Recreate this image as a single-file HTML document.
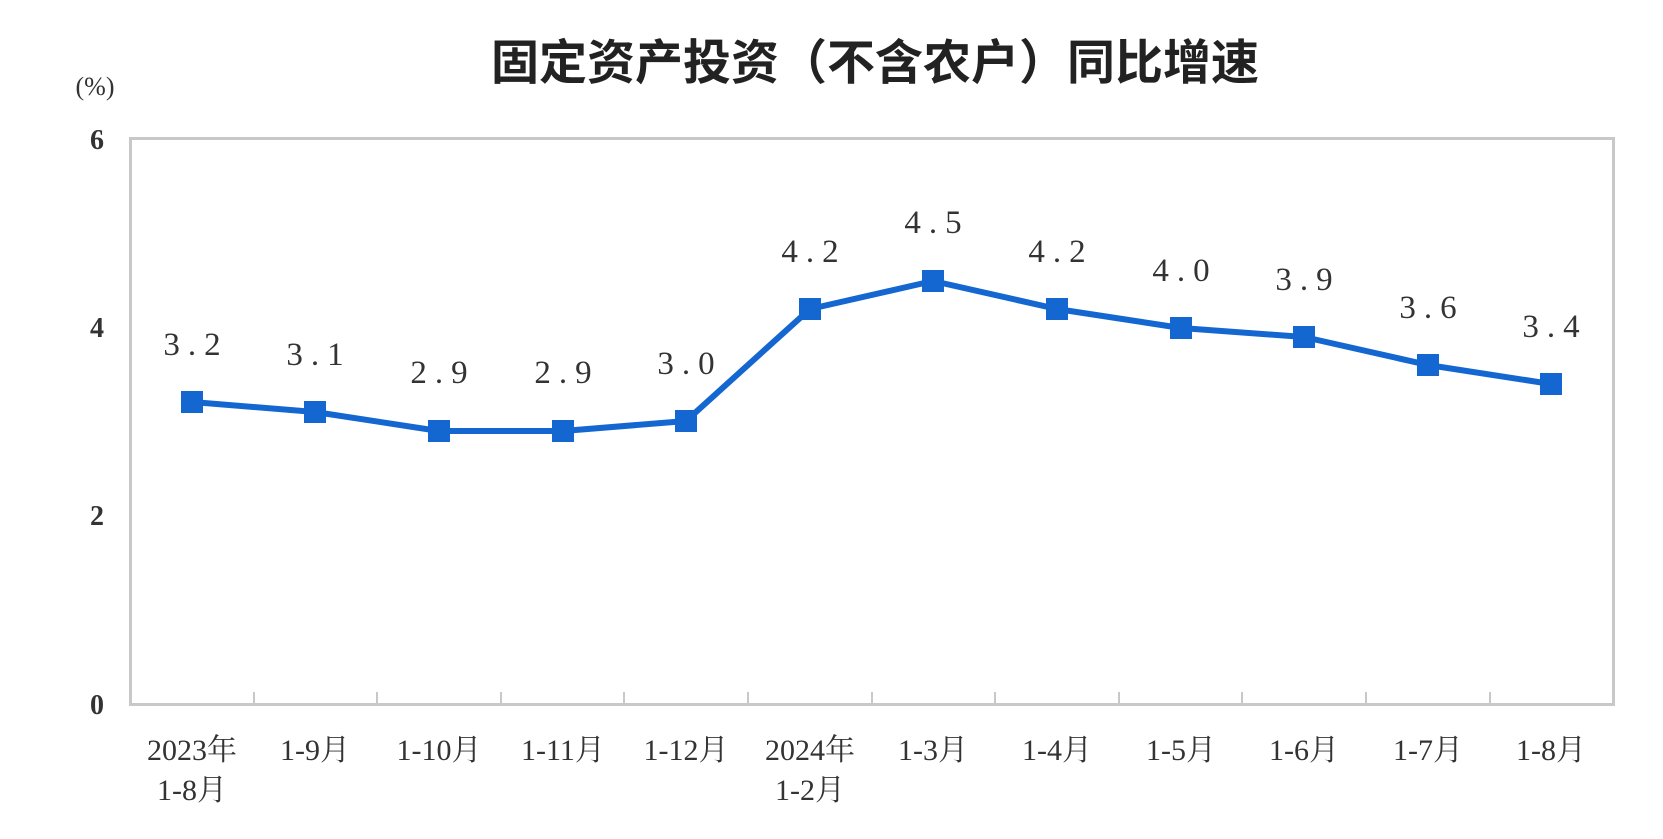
<!DOCTYPE html>
<html><head><meta charset="utf-8"><style>
html,body{margin:0;padding:0;background:#fff;}
</style></head><body>
<svg width="1663" height="834" xmlns="http://www.w3.org/2000/svg" font-family="'Liberation Serif','Noto Serif CJK SC',serif">
<text x="875" y="79" text-anchor="middle" font-size="48" font-weight="bold" font-family="'Liberation Sans','Noto Sans CJK SC',sans-serif" fill="#222">固定资产投资（不含农户）同比增速</text>
<text x="95" y="95" text-anchor="middle" font-size="26" fill="#333">(%)</text>
<g font-size="28" font-weight="bold" fill="#333" text-anchor="middle">
<text x="97" y="149">6</text><text x="97" y="337">4</text><text x="97" y="525">2</text><text x="97" y="714">0</text>
</g>
<rect x="130.5" y="138.5" width="1483" height="566" fill="none" stroke="#c8c8c8" stroke-width="3"/>
<g stroke="#c8c8c8" stroke-width="2">
<line x1="254" y1="704" x2="254" y2="692"/><line x1="377" y1="704" x2="377" y2="692"/><line x1="501" y1="704" x2="501" y2="692"/><line x1="624" y1="704" x2="624" y2="692"/><line x1="748" y1="704" x2="748" y2="692"/><line x1="872" y1="704" x2="872" y2="692"/><line x1="995" y1="704" x2="995" y2="692"/><line x1="1119" y1="704" x2="1119" y2="692"/><line x1="1242" y1="704" x2="1242" y2="692"/><line x1="1366" y1="704" x2="1366" y2="692"/><line x1="1490" y1="704" x2="1490" y2="692"/>
</g>
<polyline fill="none" stroke="#1467d0" stroke-width="6" stroke-linejoin="round" points="192,402 315,412 439,431 563,431 686,421 810,309 933,281 1057,309 1181,328 1304,337 1428,365 1551,384"/>
<g fill="#1467d0">
<rect x="181" y="391" width="22" height="22"/><rect x="304" y="401" width="22" height="22"/><rect x="428" y="420" width="22" height="22"/><rect x="552" y="420" width="22" height="22"/><rect x="675" y="410" width="22" height="22"/><rect x="799" y="298" width="22" height="22"/><rect x="922" y="270" width="22" height="22"/><rect x="1046" y="298" width="22" height="22"/><rect x="1170" y="317" width="22" height="22"/><rect x="1293" y="326" width="22" height="22"/><rect x="1417" y="354" width="22" height="22"/><rect x="1540" y="373" width="22" height="22"/>
</g>
<g font-size="33" fill="#333" text-anchor="middle" letter-spacing="8">
<text x="196" y="355">3.2</text><text x="319" y="365">3.1</text><text x="443" y="383">2.9</text><text x="567" y="383">2.9</text><text x="690" y="374">3.0</text><text x="814" y="262">4.2</text><text x="937" y="233">4.5</text><text x="1061" y="262">4.2</text><text x="1185" y="281">4.0</text><text x="1308" y="290">3.9</text><text x="1432" y="318">3.6</text><text x="1555" y="337">3.4</text>
</g>
<g font-size="30" fill="#333" text-anchor="middle">
<text x="192" y="760">2023年</text><text x="192" y="800">1-8月</text>
<text x="315" y="760">1-9月</text><text x="439" y="760">1-10月</text><text x="563" y="760">1-11月</text><text x="686" y="760">1-12月</text>
<text x="810" y="760">2024年</text><text x="810" y="800">1-2月</text>
<text x="933" y="760">1-3月</text><text x="1057" y="760">1-4月</text><text x="1181" y="760">1-5月</text><text x="1304" y="760">1-6月</text><text x="1428" y="760">1-7月</text><text x="1551" y="760">1-8月</text>
</g>
</svg>
</body></html>
